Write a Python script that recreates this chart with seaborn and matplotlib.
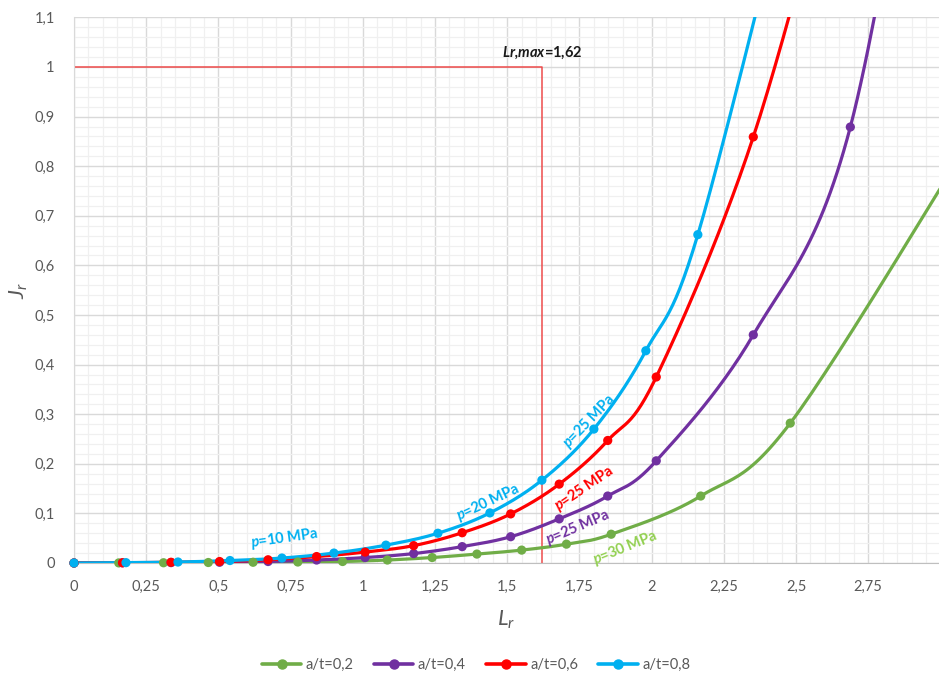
import numpy as np
import pandas as pd
import seaborn as sns
import matplotlib.pyplot as plt
from matplotlib.lines import Line2D
from matplotlib.ticker import MultipleLocator, FuncFormatter

# values (Lr, Jr)
lr_02 = [0, 0.155, 0.31, 0.465, 0.62, 0.775, 0.93, 1.085, 1.24, 1.395, 1.55, 1.705, 1.86, 2.17, 2.48, 3.10]
jr_02 = [0, 0.0002, 0.0005, 0.001, 0.0015, 0.002, 0.003, 0.006, 0.011, 0.018, 0.026, 0.038, 0.058, 0.135, 0.282, 0.85]

lr_04 = [0, 0.168, 0.336, 0.504, 0.672, 0.84, 1.008, 1.176, 1.344, 1.512, 1.68, 1.848, 2.016, 2.352, 2.688, 3.024]
jr_04 = [0, 0.0003, 0.0008, 0.0015, 0.003, 0.006, 0.011, 0.019, 0.033, 0.053, 0.089, 0.135, 0.206, 0.46, 0.879, 1.95]

lr_06 = [0, 0.168, 0.336, 0.504, 0.672, 0.84, 1.008, 1.176, 1.344, 1.512, 1.68, 1.848, 2.016, 2.352, 2.688]
jr_06 = [0, 0.0005, 0.0015, 0.003, 0.0065, 0.013, 0.022, 0.035, 0.061, 0.099, 0.159, 0.247, 0.375, 0.859, 1.56]

lr_08 = [0, 0.18, 0.36, 0.54, 0.72, 0.90, 1.08, 1.26, 1.44, 1.62, 1.80, 1.98, 2.16, 2.52]
jr_08 = [0, 0.0007, 0.002, 0.005, 0.010, 0.020, 0.036, 0.060, 0.101, 0.167, 0.270, 0.428, 0.662, 1.48]

series_names = ["a/t=0,2", "a/t=0,4", "a/t=0,6", "a/t=0,8"]
series_colors = ["#70AD47", "#7030A0", "#FF0000", "#00B0F0"]

lr_max = 1.62
jr_max = 1.0

# pressure labels: text, x, y, angle, colour
p_labels = [
    ("10", 0.73, 0.050, 8, "#00B0F0"),
    ("20", 1.434, 0.123, 25, "#00B0F0"),
    ("25", 1.783, 0.286, 46, "#00B0F0"),
    ("25", 1.766, 0.151, 34, "#FF0000"),
    ("25", 1.745, 0.072, 23, "#7030A0"),
    ("30", 1.908, 0.030, 22, "#92D050"),
]

XMAX = 2.995
YMAX = 1.1


def smooth(xs, ys, n=30):
    # excel-like smoothed line: bezier segments with catmull-rom control points
    p = np.column_stack([xs, ys]).astype(float)
    pts = [p[0]]
    for i in range(len(p) - 1):
        p0 = p[i - 1] if i > 0 else p[i]
        p1 = p[i]
        p2 = p[i + 1]
        p3 = p[i + 2] if i + 2 < len(p) else p[i + 1]
        c1 = p1 + (p2 - p0) / 6
        c2 = p2 - (p3 - p1) / 6
        t = np.linspace(0, 1, n)[1:, None]
        seg = (1 - t) ** 3 * p1 + 3 * (1 - t) ** 2 * t * c1 + 3 * (1 - t) * t ** 2 * c2 + t ** 3 * p2
        pts.extend(seg)
    pts = np.array(pts)
    return pts[:, 0], pts[:, 1]


sns.set_style("white")
plt.rcParams["font.family"] = ["Lato", "DejaVu Sans"]
plt.rcParams["mathtext.fontset"] = "custom"
plt.rcParams["mathtext.rm"] = "Lato"
plt.rcParams["mathtext.it"] = "Lato:italic"
plt.rcParams["mathtext.bf"] = "Lato:bold"
plt.rcParams["mathtext.bfit"] = "Lato:italic:bold"

fig = plt.figure(figsize=(9.39, 6.75), dpi=100)
ax = fig.add_axes([74 / 939, 1 - 563 / 675, (939 - 74) / 939, (563 - 17.4) / 675])

# grid
ax.xaxis.set_major_locator(MultipleLocator(0.25))
ax.xaxis.set_minor_locator(MultipleLocator(0.05))
ax.yaxis.set_major_locator(MultipleLocator(0.1))
ax.yaxis.set_minor_locator(MultipleLocator(0.02))
ax.grid(which="major", color="#D9D9D9", lw=1.0, zorder=0)
ax.grid(which="minor", color="#F0F0F0", lw=0.9, zorder=0)
ax.set_axisbelow(True)

# limit lines
ax.plot([0, lr_max, lr_max], [jr_max, jr_max, 0], color="#EE4B4B", lw=1.1, zorder=2)
ax.text(lr_max, 1.028, r"$\mathbfit{Lr{,}max}$=1,62", ha="center", va="center",
        fontsize=10.5, fontweight="bold", color="#1a1a1a")

all_lr = [lr_02, lr_04, lr_06, lr_08]
all_jr = [jr_02, jr_04, jr_06, jr_08]
handles = []
for xs, ys, name, col in zip(all_lr, all_jr, series_names, series_colors):
    sx, sy = smooth(xs, ys)
    df_line = pd.DataFrame({"Lr": sx, "Jr": sy})
    sns.lineplot(data=df_line, x="Lr", y="Jr", sort=False, estimator=None,
                 color=col, lw=2.3, ax=ax, zorder=3)
    df_pts = pd.DataFrame({"Lr": xs, "Jr": ys})
    df_pts = df_pts[(df_pts["Lr"] <= XMAX) & (df_pts["Jr"] <= YMAX)]
    sns.scatterplot(data=df_pts, x="Lr", y="Jr", color=col, s=44,
                    edgecolor="none", ax=ax, zorder=4)
    handles.append(Line2D([], [], color=col, lw=2.6, marker="o", markersize=6.5, label=name))
for coll in ax.collections:
    coll.set_clip_on(False)

for txt, x, y, ang, col in p_labels:
    ax.text(x, y, r"$\mathbfit{p}$=" + txt + " MPa", ha="center", va="center",
            rotation=ang, rotation_mode="anchor", fontsize=10.5,
            fontweight="bold", color=col, zorder=5)

ax.set_xlim(0, XMAX)
ax.set_ylim(0, YMAX)

fmt = FuncFormatter(lambda v, pos: f"{v:g}".replace(".", ","))
ax.xaxis.set_major_formatter(fmt)
ax.yaxis.set_major_formatter(fmt)
ax.tick_params(axis="both", which="both", length=0, labelsize=10.5, colors="#595959")
ax.tick_params(axis="x", pad=12)
ax.tick_params(axis="y", pad=14)

ax.set_xlabel(r"$\mathit{L}_\mathit{r}$", fontsize=16, color="#595959", labelpad=11)
ax.set_ylabel(r"$\mathit{J}_\mathit{r}$", fontsize=16, color="#595959", labelpad=3)

for side in ["top", "right"]:
    ax.spines[side].set_visible(False)
ax.spines["left"].set_color("#D9D9D9")
ax.spines["bottom"].set_color("#BFBFBF")

fig.legend(handles=handles, loc="center", bbox_to_anchor=(0.507, 1 - 665 / 675),
           ncol=4, frameon=False, fontsize=10.5, numpoints=1, handlelength=2.7,
           handletextpad=0.3, columnspacing=1.4, labelcolor="#595959")

fig.savefig("out.png", dpi=100)
